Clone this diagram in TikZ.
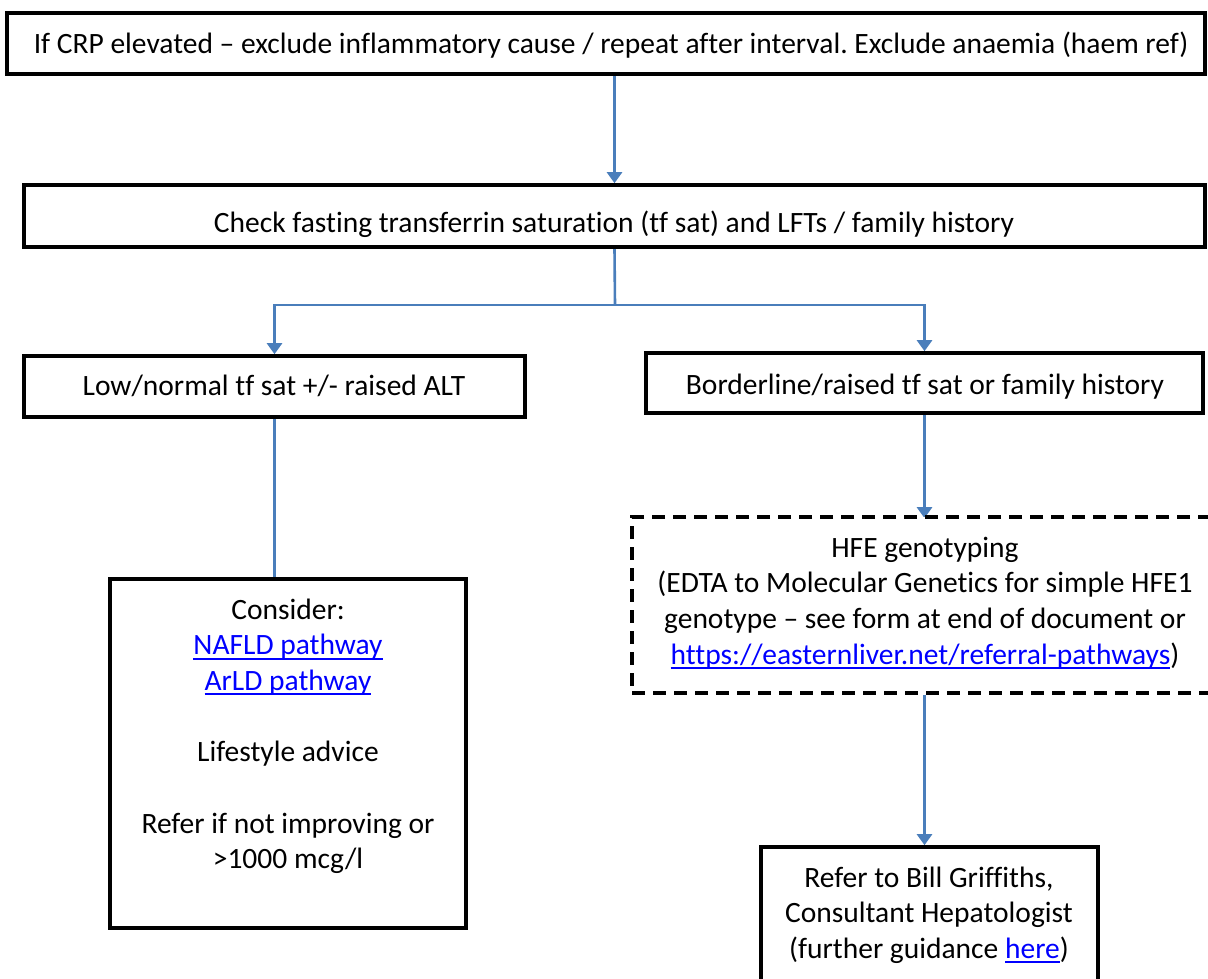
\documentclass[tikz,border=0pt]{standalone}
\usepackage{fontspec}
\setmainfont{Carlito}[Ligatures=NoCommon]
\usetikzlibrary{arrows.meta}
\definecolor{arrblue}{HTML}{4A7EBB}
\definecolor{linkblue}{HTML}{0000FF}
\newcommand\lnk[1]{{\color{linkblue}\setbox0\hbox{#1}\rlap{\rule[-5pt]{\wd0}{2pt}}\box0}}
\frenchspacing
\pgfdeclarelayer{bg}
\pgfsetlayers{bg,main}
\tikzset{
  box/.style={draw=black, line width=3.6pt, fill=white, inner sep=0pt, rectangle},
  dbox/.style={box, dash pattern=on 13pt off 8pt},
  txt/.style={inner sep=0pt, anchor=base, font=\fontsize{29.5}{35.7}\selectfont},
  link/.style={draw=arrblue, line width=2.6pt},
  arr/.style={link, -{Triangle[width=15pt,length=11pt]}},
}
\begin{document}
\begin{tikzpicture}[x=1pt,y=-1pt]
\useasboundingbox (0,0) rectangle (1208,978);
\clip (0,0) rectangle (1208,978);
% boxes
\node[box, minimum width=1198pt, minimum height=61pt] (top) at (606,43.5) {};
\node[box, minimum width=1181pt, minimum height=62pt] (check) at (614.5,216) {};
\node[box, minimum width=501pt, minimum height=61pt] (left) at (274.5,386.5) {};
\node[box, minimum width=557pt, minimum height=60pt] (right) at (924.5,383) {};
\node[box, minimum width=356pt, minimum height=349pt] (cons) at (288,753.5) {};
\node[dbox, minimum width=590pt, minimum height=176pt] (hfe) at (927,605) {};
\node[box, minimum width=337pt, minimum height=153pt] (refer) at (929.5,923.5) {};
% texts
\node[txt] (topT) at (611,53) {If CRP elevated – exclude inflammatory cause / repeat after interval. Exclude anaemia (haem ref)};
\node[txt] (checkT) at (614,232) {Check fasting transferrin saturation (tf sat) and LFTs / family history};
\node[txt] (leftT) at (274,395) {Low/normal tf sat +/- raised ALT};
\node[txt] (rightT) at (925,394) {Borderline/raised tf sat or family history};
\node[txt] (consT) at (288,619) {\begin{tabular}[t]{@{}c@{}}Consider:\\ \lnk{NAFLD pathway}\\ \lnk{ArLD pathway}\\ \\ Lifestyle advice\\ \\ Refer if not improving or\\ >1000 mcg/l\end{tabular}};
\node[txt] (hfeT) at (925,557) {\begin{tabular}[t]{@{}c@{}}HFE genotyping\\ (EDTA to Molecular Genetics for simple HFE1\\ genotype – see form at end of document or\\ \lnk{https://easternliver.net/referral-pathways})\end{tabular}};
\node[txt] (referT) at (929,887) {\begin{tabular}[t]{@{}c@{}}Refer to Bill Griffiths,\\ Consultant Hepatologist\\ (further guidance \lnk{here})\end{tabular}};
% connectors
\begin{pgfonlayer}{bg}
\coordinate (br) at (615,305);
\draw[arr] (check.north |- top.south) -- (check.north);
\draw[link] (check.south) -- (br);
\draw[arr] (br) -| (left.north);
\draw[arr] (br) -| (right.north);
\draw[arr] (left.south) -- ([yshift=-12pt]left.south |- cons.north);
\draw[arr] (right.south) -- ([yshift=-3pt]right.south |- hfe.north);
\draw[arr] (right.south |- hfe.south) -- (right.south |- refer.north);
\end{pgfonlayer}
\end{tikzpicture}
\end{document}
